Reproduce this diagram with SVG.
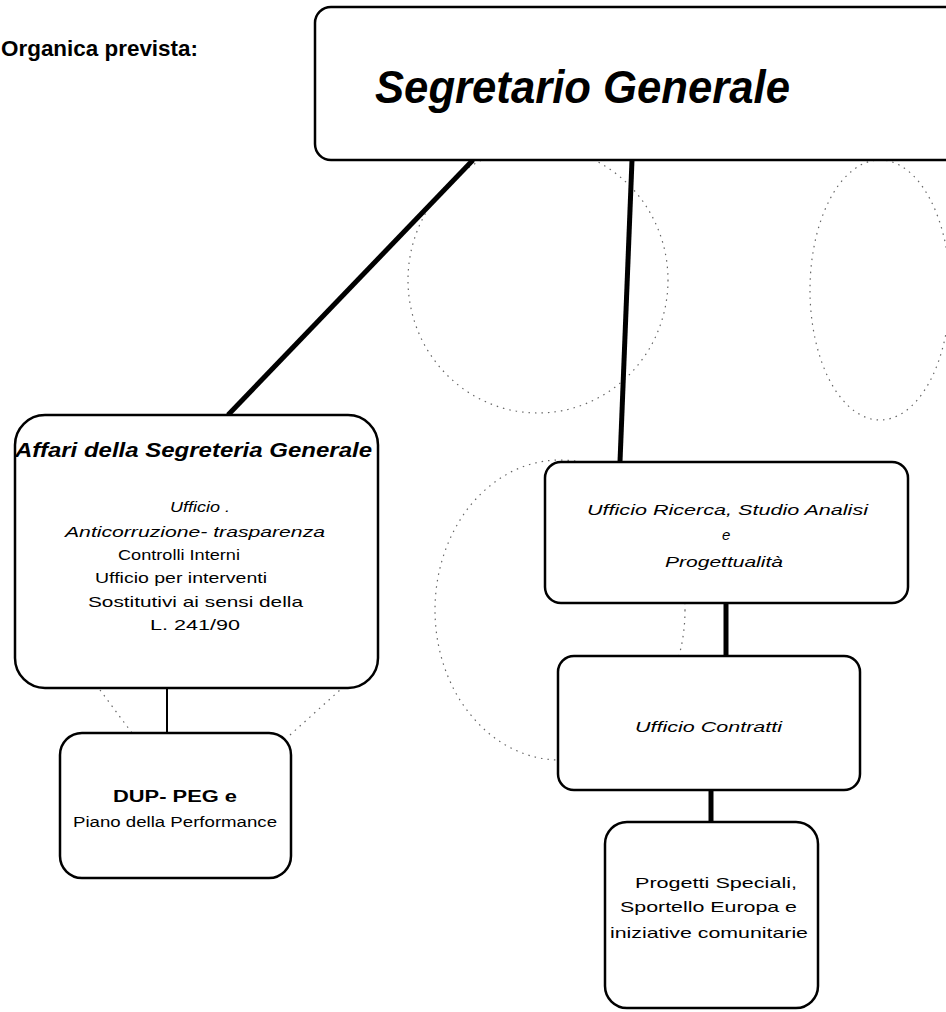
<svg xmlns="http://www.w3.org/2000/svg" width="946" height="1012" viewBox="0 0 946 1012">
<style>
.box{fill:#fff;stroke:#000;stroke-width:2.5}
.bg{fill:none;stroke:#666;stroke-width:1.2;stroke-dasharray:1.5 5}
.conn{stroke:#000;stroke-linecap:butt;fill:none}
.t{font-family:"Liberation Sans",Arial,sans-serif;fill:#000}
.bi{font-weight:bold;font-style:italic}
.i{font-style:italic}
.b{font-weight:bold}
</style>
<rect width="946" height="1012" fill="#fff"/>
<g id="background">
<ellipse class="bg" cx="538" cy="280" rx="130" ry="133"/>
<ellipse class="bg" cx="880" cy="290" rx="70" ry="130"/>
<ellipse class="bg" cx="560" cy="610" rx="125" ry="150"/>
<path class="bg" d="M100 690 L132 733 M290 735 L340 690"/>
</g>
<text class="t b" x="1" y="56" font-size="22" textLength="197" lengthAdjust="spacingAndGlyphs">Organica prevista:</text>
<g id="connectors">
<line class="conn" x1="473" y1="160" x2="228" y2="415" stroke-width="5"/>
<line class="conn" x1="632" y1="160" x2="620" y2="462" stroke-width="5"/>
<line class="conn" x1="167" y1="688" x2="167" y2="733" stroke-width="2"/>
<line class="conn" x1="726" y1="603" x2="726" y2="656" stroke-width="5"/>
<line class="conn" x1="711" y1="790" x2="711" y2="822" stroke-width="5"/>
</g>
<g id="segretario">
<rect class="box" x="315" y="7" width="660" height="153" rx="16"/>
<text class="t bi" x="375" y="103" font-size="46" textLength="415" lengthAdjust="spacingAndGlyphs">Segretario Generale</text>
</g>
<g id="affari">
<rect class="box" x="15" y="415" width="363" height="273" rx="30"/>
<text class="t bi" x="15" y="457" font-size="21" textLength="357" lengthAdjust="spacingAndGlyphs">Affari della Segreteria Generale</text>
<text class="t i" x="170" y="512" font-size="15" textLength="60" lengthAdjust="spacingAndGlyphs">Ufficio .</text>
<text class="t i" x="65" y="537" font-size="15" textLength="260" lengthAdjust="spacingAndGlyphs">Anticorruzione- trasparenza</text>
<text class="t" x="118" y="560" font-size="15" textLength="122" lengthAdjust="spacingAndGlyphs">Controlli Interni</text>
<text class="t" x="95" y="583" font-size="15" textLength="172" lengthAdjust="spacingAndGlyphs">Ufficio  per interventi</text>
<text class="t" x="88" y="607" font-size="15" textLength="215" lengthAdjust="spacingAndGlyphs">Sostitutivi ai sensi della</text>
<text class="t" x="150" y="630" font-size="15" textLength="90" lengthAdjust="spacingAndGlyphs">L. 241/90</text>
</g>
<g id="dup">
<rect class="box" x="60" y="733" width="231" height="145" rx="22"/>
<text class="t b" x="113" y="802" font-size="16" textLength="124" lengthAdjust="spacingAndGlyphs">DUP- PEG e</text>
<text class="t" x="73" y="827" font-size="14" textLength="204" lengthAdjust="spacingAndGlyphs">Piano della Performance</text>
</g>
<g id="ricerca">
<rect class="box" x="545" y="462" width="363" height="141" rx="16"/>
<text class="t i" x="587" y="515" font-size="15" textLength="281" lengthAdjust="spacingAndGlyphs">Ufficio Ricerca, Studio Analisi</text>
<text class="t i" x="722" y="540" font-size="15">e</text>
<text class="t i" x="665" y="567" font-size="15" textLength="118" lengthAdjust="spacingAndGlyphs">Progettualità</text>
</g>
<g id="contratti">
<rect class="box" x="558" y="656" width="302" height="134" rx="16"/>
<text class="t i" x="635" y="732" font-size="15" textLength="147" lengthAdjust="spacingAndGlyphs">Ufficio Contratti</text>
</g>
<g id="progetti">
<rect class="box" x="605" y="822" width="213" height="186" rx="22"/>
<text class="t" x="635" y="888" font-size="15" textLength="162" lengthAdjust="spacingAndGlyphs">Progetti Speciali,</text>
<text class="t" x="620" y="912" font-size="15" textLength="177" lengthAdjust="spacingAndGlyphs">Sportello Europa e</text>
<text class="t" x="610" y="938" font-size="15" textLength="198" lengthAdjust="spacingAndGlyphs">iniziative comunitarie</text>
</g>
</svg>
